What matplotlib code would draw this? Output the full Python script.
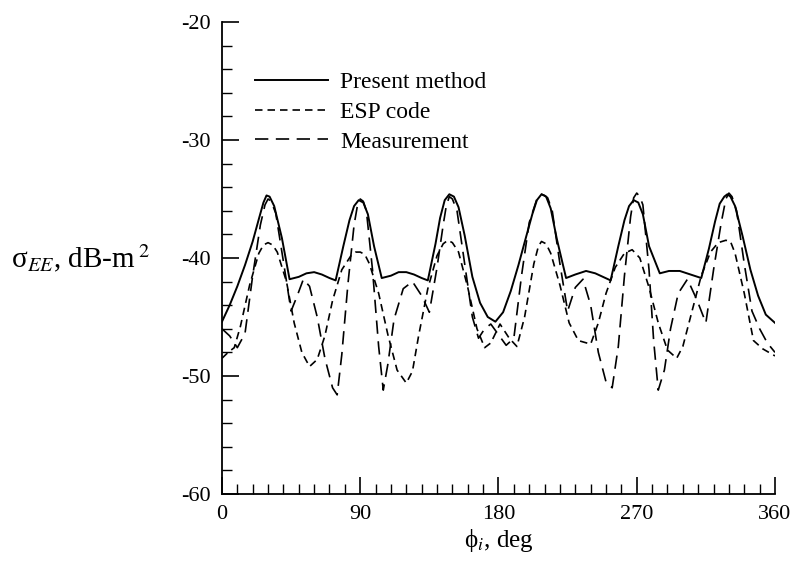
import matplotlib
matplotlib.use('Agg')
import matplotlib.pyplot as plt
from matplotlib.ticker import MultipleLocator

plt.rcParams['font.family'] = ['Liberation Serif', 'DejaVu Serif']
plt.rcParams['mathtext.fontset'] = 'stix'
plt.rcParams['axes.unicode_minus'] = False

# Present method (solid)
phi_pm = [0, 5, 10, 15, 20, 24, 27, 29, 31, 34, 39, 44, 50, 55, 60, 65, 70, 74, 79, 83, 86, 89,
          92, 95, 99, 104, 110, 115, 120, 125, 130, 134, 139, 142, 145, 148, 151, 154, 158, 163,
          168, 173, 178, 183, 188, 193, 198, 202, 205, 208, 211, 214, 218, 224, 230, 237, 243,
          248, 253, 258, 262, 265, 268, 271, 274, 278, 285, 291, 298, 305, 312, 317, 321, 324,
          327, 329, 331, 334, 339, 344, 349, 354, 360]
sig_pm = [-45.4, -44.0, -42.4, -40.6, -38.6, -36.7, -35.3, -34.7, -34.8, -35.6, -38.3, -41.8,
          -41.6, -41.3, -41.2, -41.4, -41.7, -41.9, -39.0, -36.8, -35.6, -35.1, -35.3, -36.3,
          -39.0, -41.7, -41.5, -41.2, -41.2, -41.4, -41.7, -41.9, -38.8, -36.6, -35.1, -34.6,
          -34.8, -35.7, -38.1, -41.6, -43.8, -45.0, -45.4, -44.6, -42.8, -40.6, -38.2, -36.3,
          -35.1, -34.6, -34.8, -35.8, -38.4, -41.7, -41.4, -41.1, -41.3, -41.6, -41.9, -39.0,
          -36.8, -35.6, -35.1, -35.3, -36.3, -39.0, -41.3, -41.1, -41.1, -41.4, -41.7, -39.2,
          -36.9, -35.4, -34.8, -34.6, -34.8, -35.6, -38.2, -41.0, -43.2, -44.8, -45.5]

# ESP code (short dashes)
phi_esp = [0, 4, 8, 12, 18, 24, 27, 30, 33, 36, 42, 47, 52, 57, 62, 67, 72, 78, 84, 87, 90, 93,
           96, 102, 108, 114, 120, 124, 128, 134, 140, 144, 147, 150, 154, 160, 166, 171, 175,
           181, 187, 192, 197, 203, 206, 208, 211, 214, 220, 226, 232, 240, 245, 250, 256, 262,
           267, 272, 278, 284, 290, 296, 300, 305, 312, 318, 323, 328, 331, 334, 340, 346, 352,
           356, 360]
sig_esp = [-48.5, -48.0, -47.6, -45.8, -42.3, -39.6, -38.9, -38.7, -38.9, -39.5, -42.0, -45.5,
           -48.0, -49.2, -48.6, -46.6, -43.6, -41.0, -39.8, -39.5, -39.5, -39.7, -40.5, -43.0,
           -46.5, -49.5, -50.6, -49.6, -46.6, -42.6, -39.8, -38.8, -38.5, -38.7, -39.5, -42.5,
           -46.0, -47.6, -47.2, -45.6, -46.8, -47.5, -45.0, -40.5, -39.0, -38.6, -38.8, -39.6,
           -42.3, -45.5, -47.0, -47.3, -45.5, -43.0, -40.8, -39.6, -39.3, -40.0, -42.5, -45.5,
           -47.8, -48.5, -47.5, -45.0, -41.5, -39.5, -38.7, -38.5, -38.6, -39.6, -43.0, -47.0,
           -47.7, -48.0, -48.3]

# Measurement (long dashes)
phi_meas = [0, 5, 10, 15, 20, 25, 28, 30, 32, 35, 40, 45, 49, 53, 57, 62, 67, 72, 75, 78, 82, 86,
            88, 90, 92, 94, 98, 102, 105, 108, 112, 118, 124, 130, 135, 140, 144, 146, 148, 150,
            153, 158, 163, 167, 171, 175, 180, 185, 190, 195, 200, 205, 208, 210, 212, 215, 220,
            225, 230, 235, 240, 245, 250, 254, 258, 262, 266, 268, 270, 272, 274, 278, 281, 284,
            288, 292, 297, 303, 309, 315, 320, 325, 328, 330, 332, 335, 340, 345, 350, 355, 360]
sig_meas = [-46.0, -46.6, -47.6, -46.4, -41.5, -37.2, -35.5, -35.0, -35.2, -36.2, -40.3, -44.5,
            -43.2, -41.8, -42.4, -45.0, -48.5, -51.0, -51.6, -48.2, -42.2, -37.2, -35.7, -35.0,
            -35.2, -36.0, -41.0, -47.5, -51.2, -49.0, -45.2, -42.6, -42.0, -43.2, -44.6, -40.8,
            -37.2, -35.6, -34.8, -35.0, -36.0, -40.5, -45.0, -46.8, -46.0, -45.6, -46.5, -47.4,
            -46.8, -41.5, -37.0, -35.0, -34.6, -34.7, -34.9, -36.0, -40.5, -44.5, -42.5, -41.8,
            -44.0, -48.0, -50.5, -51.0, -47.5, -41.5, -36.5, -34.9, -34.5, -34.8, -35.5, -41.0,
            -47.0, -51.2, -49.5, -46.0, -43.0, -41.8, -43.5, -45.5, -41.0, -37.0, -35.0, -34.5,
            -34.8, -36.0, -40.5, -44.5, -46.0, -47.2, -48.0]

legend_labels = ['Present method', 'ESP code', 'Measurement']
x_ticks = [0, 90, 180, 270, 360]
y_ticks = [-60, -50, -40, -30, -20]

fig = plt.figure(figsize=(7.97, 5.65), dpi=100)
ax = fig.add_axes([0.2785, 0.1257, 0.6939, 0.8354])

lw = 1.2
ax.plot(phi_pm, sig_pm, color='black', linewidth=1.4, label=legend_labels[0])
ax.plot(phi_esp, sig_esp, color='black', linewidth=lw, dashes=(4.5, 3.0), label=legend_labels[1])
ax.plot(phi_meas, sig_meas, color='black', linewidth=lw, dashes=(8.0, 4.5), label=legend_labels[2])

ax.set_xlim(0, 360)
ax.set_ylim(-60, -20)
ax.set_xticks(x_ticks)
ax.set_yticks(y_ticks)
ax.xaxis.set_minor_locator(MultipleLocator(10))
ax.yaxis.set_minor_locator(MultipleLocator(2))
ax.tick_params(which='major', direction='in', length=12, width=1.2, labelsize=16, pad=8)
ax.tick_params(which='minor', direction='in', length=7, width=1.0)
ax.tick_params(axis='y', which='both', right=False)
ax.tick_params(axis='x', which='both', top=False)
for s in ['top', 'right']:
    ax.spines[s].set_visible(False)
for s in ['left', 'bottom']:
    ax.spines[s].set_linewidth(1.3)

ax.set_xlabel('ϕ$_i$, deg', fontsize=18, labelpad=2)
ax.set_ylabel('σ$_{EE}$, dB-m$^{\\;2}$', fontsize=21, rotation=0, labelpad=22,
              va='center', ha='right')

ax.legend(loc='upper left', bbox_to_anchor=(0.06, 0.895), frameon=False, fontsize=17,
          handlelength=3.1, handletextpad=0.5, labelspacing=0.35, borderpad=0, borderaxespad=0)

fig.savefig('out.png', dpi=100)
